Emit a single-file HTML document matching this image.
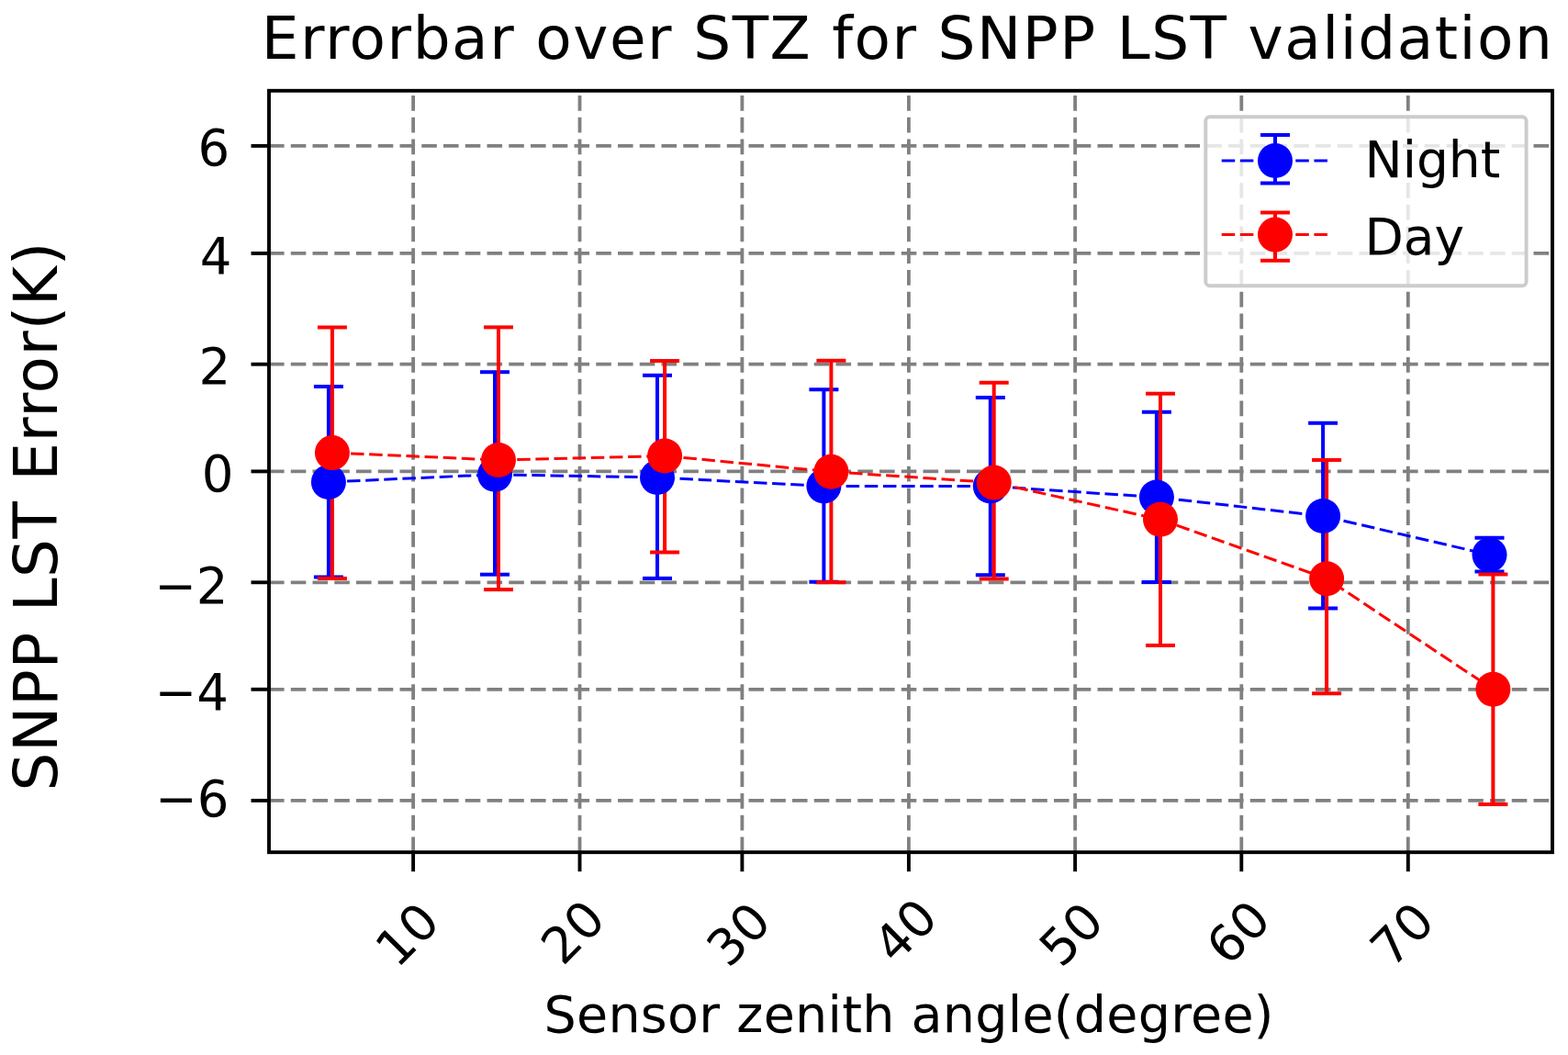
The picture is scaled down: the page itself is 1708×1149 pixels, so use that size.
<!DOCTYPE html>
<html><head><meta charset="utf-8"><title>Errorbar over STZ for SNPP LST validation</title>
<style>html,body{margin:0;padding:0;background:#fff;width:1708px;height:1149px;overflow:hidden}svg{display:block}</style>
</head><body>
<svg width="1708" height="1149" viewBox="0 0 1708 1149">
<rect x="0" y="0" width="1708" height="1149" fill="#ffffff"/>
<g stroke="#808080" stroke-width="3.8" stroke-dasharray="16.58 7.17" fill="none">
<line x1="293.0" y1="158.9" x2="1691.0" y2="158.9"/>
<line x1="293.0" y1="275.9" x2="1691.0" y2="275.9"/>
<line x1="293.0" y1="396.7" x2="1691.0" y2="396.7"/>
<line x1="293.0" y1="513.4" x2="1691.0" y2="513.4"/>
<line x1="293.0" y1="634.3" x2="1691.0" y2="634.3"/>
<line x1="293.0" y1="750.8" x2="1691.0" y2="750.8"/>
<line x1="293.0" y1="871.9" x2="1691.0" y2="871.9"/>
<line x1="450.1" y1="928.2" x2="450.1" y2="98.8"/>
<line x1="631.5" y1="928.2" x2="631.5" y2="98.8"/>
<line x1="808.4" y1="928.2" x2="808.4" y2="98.8"/>
<line x1="989.9" y1="928.2" x2="989.9" y2="98.8"/>
<line x1="1171.1" y1="928.2" x2="1171.1" y2="98.8"/>
<line x1="1352.3" y1="928.2" x2="1352.3" y2="98.8"/>
<line x1="1533.8" y1="928.2" x2="1533.8" y2="98.8"/>
</g>
<g stroke="#0000ff" stroke-width="4.0" fill="none">
<line x1="357.9" y1="421.0" x2="357.9" y2="628.6"/>
<line x1="341.9" y1="421.0" x2="373.9" y2="421.0"/>
<line x1="341.9" y1="628.6" x2="373.9" y2="628.6"/>
<line x1="539.0" y1="405.2" x2="539.0" y2="625.7"/>
<line x1="523.0" y1="405.2" x2="555.0" y2="405.2"/>
<line x1="523.0" y1="625.7" x2="555.0" y2="625.7"/>
<line x1="716.0" y1="408.8" x2="716.0" y2="629.9"/>
<line x1="700.0" y1="408.8" x2="732.0" y2="408.8"/>
<line x1="700.0" y1="629.9" x2="732.0" y2="629.9"/>
<line x1="897.4" y1="424.3" x2="897.4" y2="633.7"/>
<line x1="881.4" y1="424.3" x2="913.4" y2="424.3"/>
<line x1="881.4" y1="633.7" x2="913.4" y2="633.7"/>
<line x1="1078.8" y1="432.9" x2="1078.8" y2="626.2"/>
<line x1="1062.8" y1="432.9" x2="1094.8" y2="432.9"/>
<line x1="1062.8" y1="626.2" x2="1094.8" y2="626.2"/>
<line x1="1259.9" y1="448.8" x2="1259.9" y2="634.0"/>
<line x1="1243.9" y1="448.8" x2="1275.9" y2="448.8"/>
<line x1="1243.9" y1="634.0" x2="1275.9" y2="634.0"/>
<line x1="1441.1" y1="460.8" x2="1441.1" y2="662.4"/>
<line x1="1425.1" y1="460.8" x2="1457.1" y2="460.8"/>
<line x1="1425.1" y1="662.4" x2="1457.1" y2="662.4"/>
<line x1="1622.5" y1="585.8" x2="1622.5" y2="622.6"/>
<line x1="1606.5" y1="585.8" x2="1638.5" y2="585.8"/>
<line x1="1606.5" y1="622.6" x2="1638.5" y2="622.6"/>
</g>
<g stroke="#ff0000" stroke-width="4.0" fill="none">
<line x1="361.9" y1="356.4" x2="361.9" y2="630.0"/>
<line x1="345.9" y1="356.4" x2="377.9" y2="356.4"/>
<line x1="345.9" y1="630.0" x2="377.9" y2="630.0"/>
<line x1="543.0" y1="356.4" x2="543.0" y2="642.1"/>
<line x1="527.0" y1="356.4" x2="559.0" y2="356.4"/>
<line x1="527.0" y1="642.1" x2="559.0" y2="642.1"/>
<line x1="724.1" y1="392.9" x2="724.1" y2="601.6"/>
<line x1="708.1" y1="392.9" x2="740.1" y2="392.9"/>
<line x1="708.1" y1="601.6" x2="740.1" y2="601.6"/>
<line x1="905.4" y1="392.7" x2="905.4" y2="634.2"/>
<line x1="889.4" y1="392.7" x2="921.4" y2="392.7"/>
<line x1="889.4" y1="634.2" x2="921.4" y2="634.2"/>
<line x1="1082.7" y1="416.7" x2="1082.7" y2="630.4"/>
<line x1="1066.7" y1="416.7" x2="1098.7" y2="416.7"/>
<line x1="1066.7" y1="630.4" x2="1098.7" y2="630.4"/>
<line x1="1264.0" y1="428.7" x2="1264.0" y2="702.9"/>
<line x1="1248.0" y1="428.7" x2="1280.0" y2="428.7"/>
<line x1="1248.0" y1="702.9" x2="1280.0" y2="702.9"/>
<line x1="1445.1" y1="500.9" x2="1445.1" y2="755.3"/>
<line x1="1429.1" y1="500.9" x2="1461.1" y2="500.9"/>
<line x1="1429.1" y1="755.3" x2="1461.1" y2="755.3"/>
<line x1="1626.4" y1="625.5" x2="1626.4" y2="875.9"/>
<line x1="1610.4" y1="625.5" x2="1642.4" y2="625.5"/>
<line x1="1610.4" y1="875.9" x2="1642.4" y2="875.9"/>
</g>
<polyline points="357.9,525.0 539.0,516.8 716.0,520.0 897.4,529.5 1078.8,529.5 1259.9,541.5 1441.1,562.0 1622.5,604.2" fill="none" stroke="#0000ff" stroke-width="3.0" stroke-dasharray="14.5 5.65"/>
<circle cx="357.9" cy="525.0" r="19.0" fill="#0000ff"/>
<circle cx="539.0" cy="516.8" r="19.0" fill="#0000ff"/>
<circle cx="716.0" cy="520.0" r="19.0" fill="#0000ff"/>
<circle cx="897.4" cy="529.5" r="19.0" fill="#0000ff"/>
<circle cx="1078.8" cy="529.5" r="19.0" fill="#0000ff"/>
<circle cx="1259.9" cy="541.5" r="19.0" fill="#0000ff"/>
<circle cx="1441.1" cy="562.0" r="19.0" fill="#0000ff"/>
<circle cx="1622.5" cy="604.2" r="19.0" fill="#0000ff"/>
<polyline points="361.9,493.1 543.0,501.0 724.1,496.5 905.4,513.8 1082.7,525.6 1264.0,565.8 1445.1,630.2 1626.4,750.7" fill="none" stroke="#ff0000" stroke-width="3.0" stroke-dasharray="14.5 5.65"/>
<circle cx="361.9" cy="493.1" r="19.0" fill="#ff0000"/>
<circle cx="543.0" cy="501.0" r="19.0" fill="#ff0000"/>
<circle cx="724.1" cy="496.5" r="19.0" fill="#ff0000"/>
<circle cx="905.4" cy="513.8" r="19.0" fill="#ff0000"/>
<circle cx="1082.7" cy="525.6" r="19.0" fill="#ff0000"/>
<circle cx="1264.0" cy="565.8" r="19.0" fill="#ff0000"/>
<circle cx="1445.1" cy="630.2" r="19.0" fill="#ff0000"/>
<circle cx="1626.4" cy="750.7" r="19.0" fill="#ff0000"/>
<rect x="293.0" y="98.8" width="1398.0" height="829.4000000000001" fill="none" stroke="#000" stroke-width="3.9" stroke-linejoin="miter"/>
<g stroke="#000" stroke-width="3.9">
<line x1="273.5" y1="158.9" x2="293.0" y2="158.9"/>
<line x1="273.5" y1="275.9" x2="293.0" y2="275.9"/>
<line x1="273.5" y1="396.7" x2="293.0" y2="396.7"/>
<line x1="273.5" y1="513.4" x2="293.0" y2="513.4"/>
<line x1="273.5" y1="634.3" x2="293.0" y2="634.3"/>
<line x1="273.5" y1="750.8" x2="293.0" y2="750.8"/>
<line x1="273.5" y1="871.9" x2="293.0" y2="871.9"/>
<line x1="450.1" y1="928.2" x2="450.1" y2="949.2"/>
<line x1="631.5" y1="928.2" x2="631.5" y2="949.2"/>
<line x1="808.4" y1="928.2" x2="808.4" y2="949.2"/>
<line x1="989.9" y1="928.2" x2="989.9" y2="949.2"/>
<line x1="1171.1" y1="928.2" x2="1171.1" y2="949.2"/>
<line x1="1352.3" y1="928.2" x2="1352.3" y2="949.2"/>
<line x1="1533.8" y1="928.2" x2="1533.8" y2="949.2"/>
</g>
<g font-family='"DejaVu Sans", "Liberation Sans", sans-serif' font-size="54.5" fill="#000" text-anchor="end">
<text x="250.20" y="180.25">6</text>
<text x="252.40" y="297.65">4</text>
<text x="251.25" y="418.15">2</text>
<text x="254.40" y="535.30">0</text>
<text x="248.55" y="656.50">−2</text>
<text x="248.90" y="772.60">−4</text>
<text x="249.40" y="889.00">−6</text>
</g>
<g font-family='"DejaVu Sans", "Liberation Sans", sans-serif' font-size="54.5" fill="#000" text-anchor="middle">
<text transform="translate(443.60,1017.80) rotate(-45)" dy="0.35em">10</text>
<text transform="translate(624.00,1014.90) rotate(-45)" dy="0.35em">20</text>
<text transform="translate(804.60,1017.60) rotate(-45)" dy="0.35em">30</text>
<text transform="translate(986.00,1013.50) rotate(-45)" dy="0.35em">40</text>
<text transform="translate(1166.90,1017.40) rotate(-45)" dy="0.35em">50</text>
<text transform="translate(1348.80,1015.40) rotate(-45)" dy="0.35em">60</text>
<text transform="translate(1527.30,1017.60) rotate(-45)" dy="0.35em">70</text>
</g>
<text x="284.8" y="64.2" font-family='"DejaVu Sans", "Liberation Sans", sans-serif' font-size="64.5" textLength="1406" lengthAdjust="spacing" fill="#000">Errorbar over STZ for SNPP LST validation</text>
<text x="592.5" y="1123.9" font-family='"DejaVu Sans", "Liberation Sans", sans-serif' font-size="55.5" textLength="795" lengthAdjust="spacing" fill="#000">Sensor zenith angle(degree)</text>
<text transform="translate(61.6,861.5) rotate(-90)" font-family='"DejaVu Sans", "Liberation Sans", sans-serif' font-size="66" textLength="598" lengthAdjust="spacing" fill="#000">SNPP LST Error(K)</text>
<rect x="1313.3" y="127.3" width="349.29999999999995" height="184.0" rx="4.5" ry="4.5" fill="#ffffff" fill-opacity="0.8" stroke="#cccccc" stroke-width="3.9"/>
<line x1="1330.7" y1="175" x2="1446.8" y2="175" stroke="#0000ff" stroke-width="3.0" stroke-dasharray="14.5 5.65"/>
<g stroke="#0000ff" stroke-width="4.0">
<line x1="1389" y1="147" x2="1389" y2="199.5"/>
<line x1="1373.0" y1="147" x2="1405.0" y2="147"/>
<line x1="1373.0" y1="199.5" x2="1405.0" y2="199.5"/>
</g>
<circle cx="1389" cy="175" r="19.0" fill="#0000ff"/>
<text x="1486.5" y="193.4" font-family='"DejaVu Sans", "Liberation Sans", sans-serif' font-size="55" fill="#000">Night</text>
<line x1="1330.7" y1="255.6" x2="1446.8" y2="255.6" stroke="#ff0000" stroke-width="3.0" stroke-dasharray="14.5 5.65"/>
<g stroke="#ff0000" stroke-width="4.0">
<line x1="1389" y1="231.5" x2="1389" y2="283.8"/>
<line x1="1373.0" y1="231.5" x2="1405.0" y2="231.5"/>
<line x1="1373.0" y1="283.8" x2="1405.0" y2="283.8"/>
</g>
<circle cx="1389" cy="255.6" r="19.0" fill="#ff0000"/>
<text x="1486.5" y="276.9" font-family='"DejaVu Sans", "Liberation Sans", sans-serif' font-size="55" fill="#000">Day</text>
</svg>
</body></html>
